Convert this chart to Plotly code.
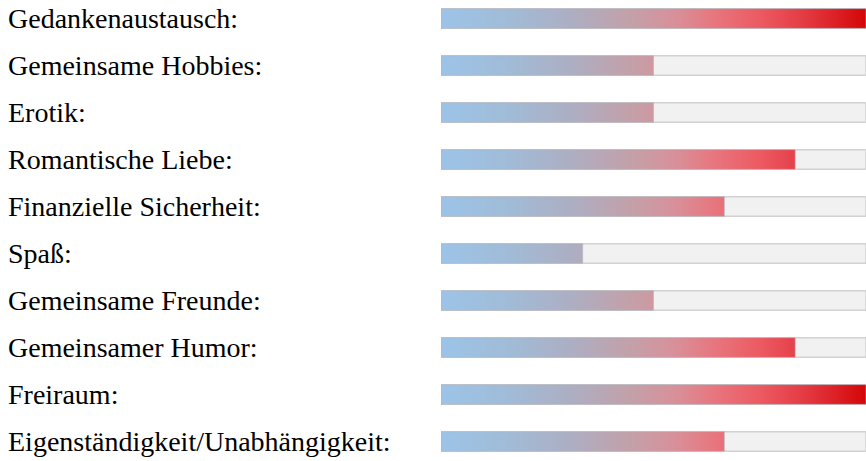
import plotly.graph_objects as go

categories = [
    "Gedankenaustausch:",
    "Gemeinsame Hobbies:",
    "Erotik:",
    "Romantische Liebe:",
    "Finanzielle Sicherheit:",
    "Spaß:",
    "Gemeinsame Freunde:",
    "Gemeinsamer Humor:",
    "Freiraum:",
    "Eigenständigkeit/Unabhängigkeit:",
]
values = [6, 3, 3, 5, 4, 2, 3, 5, 6, 4]
max_value = 6

W, H = 866, 461
L = 441
half = 0.21

colorscale = [
    [0.0, "#9cc4e8"],
    [0.15, "#a0bcd8"],
    [0.3, "#acafc4"],
    [0.45, "#c4a0a8"],
    [0.55, "#d8909a"],
    [0.65, "#e8747c"],
    [0.75, "#ec5a62"],
    [0.85, "#e43c44"],
    [0.93, "#dc2026"],
    [1.0, "#d40606"],
]

fig = go.Figure()
for i, (cat, v) in enumerate(zip(categories, values)):
    fig.add_trace(go.Scatter(
        x=[0, max_value, max_value, 0, 0],
        y=[i - half, i - half, i + half, i + half, i - half],
        mode="lines", fill="toself", fillcolor="#f1f1f1",
        line=dict(color="#d2d2d2", width=1.5),
        hoverinfo="skip", showlegend=False,
    ))
    fig.add_trace(go.Scatter(
        x=[0, v, v, 0, 0],
        y=[i - half, i - half, i + half, i + half, i - half],
        mode="lines", fill="toself",
        fillgradient=dict(type="horizontal", colorscale=colorscale,
                          start=0, stop=max_value),
        line=dict(color="rgba(180,180,190,0.6)", width=1),
        name=cat, showlegend=False,
    ))
    fig.add_annotation(
        x=(6 - L) / (W - L), xref="paper", y=i, yref="y",
        text=cat, showarrow=False, xanchor="left", yanchor="middle",
        font=dict(family="Liberation Serif", size=28, color="#000000"),
    )

ymin = -18.5 / 47
ymax = 9 + (H - 441.5) / 47
fig.update_xaxes(range=[0, max_value], visible=False, showgrid=False, zeroline=False)
fig.update_yaxes(range=[ymax, ymin], visible=False, showgrid=False, zeroline=False)
fig.update_layout(
    width=W, height=H,
    margin=dict(l=L, r=0, t=0, b=0),
    paper_bgcolor="white", plot_bgcolor="white",
)
fig.write_html(
    "out.html",
    config={"displayModeBar": False},
    post_script="document.body.style.margin='0';document.body.style.overflow='hidden';",
)
